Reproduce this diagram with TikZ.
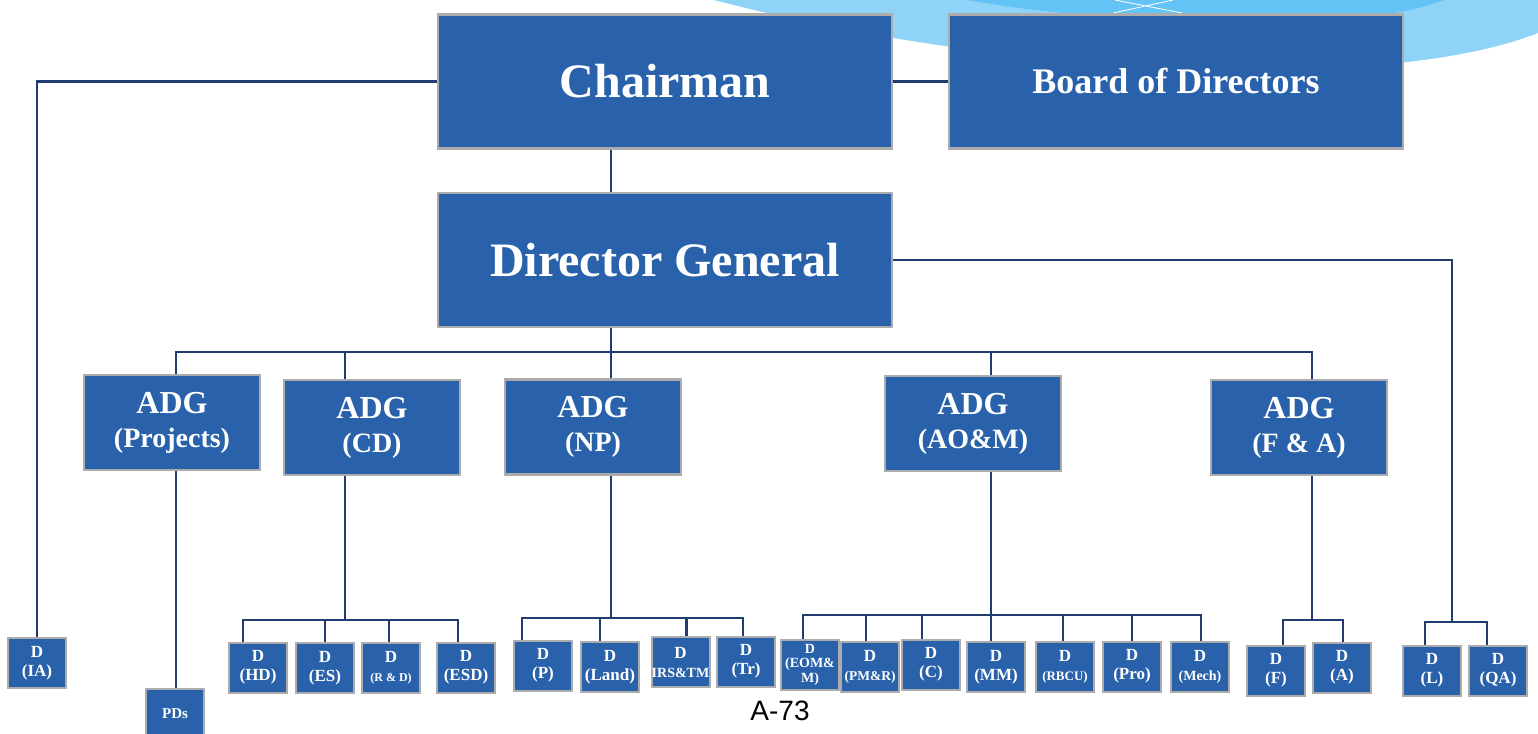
\documentclass[tikz,border=0pt]{standalone}
\usepackage{fontspec}
\setmainfont{Liberation Serif}
\newfontfamily\pagefont{Liberation Sans}
\usetikzlibrary{backgrounds}
\definecolor{boxblue}{RGB}{41,98,170}
\definecolor{boxgray}{RGB}{172,172,172}
\definecolor{connblue}{RGB}{31,61,110}
\definecolor{skylight}{RGB}{143,211,247}
\definecolor{skydark}{RGB}{99,195,245}
\tikzset{
  box/.style={draw=boxgray, line width=2.5pt, fill=boxblue, text=white, align=center, inner sep=0pt},
  bigbox/.style={box, minimum width=454pt, minimum height=134pt, font=\fontsize{48}{52}\selectfont\bfseries},
  adg/.style={box, minimum width=176pt, minimum height=95pt, font=\fontsize{28}{34}\selectfont\bfseries},
  dbox/.style={box, line width=2pt, minimum width=58pt, minimum height=50pt, font=\fontsize{17}{19}\selectfont\bfseries},
  conn/.style={draw=connblue, line width=2.5pt},
}
\newcommand{\adgline}{{\fontsize{32}{34}\selectfont ADG}}
\begin{document}
\begin{tikzpicture}[x=1pt,y=-1pt]
\useasboundingbox (0,0) rectangle (1538,733);
\clip (0,0) rectangle (1538,733);
% top level
\node[bigbox] (chair) at (665,81.5) {Chairman};
\node[bigbox, font=\fontsize{36}{40}\selectfont\bfseries] (board) at (1176,81.5) {Board of Directors};
\node[bigbox] (dg) at (665,260) {Director General};
% ADGs
\node[adg] (adgp) at (172,422.5) {\adgline\\(Projects)};
\node[adg] (adgcd) at (372,427.5) {\adgline\\(CD)};
\node[adg] (adgnp) at (593,427) {\adgline\\(NP)};
\node[adg] (adgaom) at (973,423.5) {\adgline\\(AO\&M)};
\node[adg] (adgfa) at (1299,427.5) {\adgline\\(F \& A)};
% directors
\node[dbox] (ia) at (37,663) {D\\(IA)};
\node[dbox, font=\fontsize{15}{17}\selectfont\bfseries] (pds) at (175,714) {PDs};
\node[dbox] (hd) at (258,667.5) {D\\(HD)};
\node[dbox] (es) at (325,668) {D\\(ES)};
\node[dbox] (rd) at (391,667.5) {D\\{\fontsize{12}{19}\selectfont(R \& D)}};
\node[dbox] (esd) at (466,667.5) {D\\(ESD)};
\node[dbox] (p) at (543,665.5) {D\\(P)};
\node[dbox] (land) at (610,667) {D\\(Land)};
\node[dbox] (irs) at (680.5,662) {D\\{\fontsize{14}{19}\selectfont IRS\&TM}};
\node[dbox] (tr) at (746,661.5) {D\\(Tr)};
\node[dbox, font=\fontsize{14}{14.5}\selectfont\bfseries] (eom) at (810,664.5) {D\\(EOM\&\\M)};
\node[dbox] (pmr) at (870,666.5) {D\\{\fontsize{13.5}{19}\selectfont(PM\&R)}};
\node[dbox] (c) at (931,664.5) {D\\(C)};
\node[dbox] (mm) at (996,667) {D\\(MM)};
\node[dbox] (rbcu) at (1065,666.5) {D\\{\fontsize{13}{19}\selectfont(RBCU)}};
\node[dbox] (pro) at (1132,666.5) {D\\(Pro)};
\node[dbox] (mech) at (1200,666.5) {D\\{\fontsize{14}{19}\selectfont(Mech)}};
\node[dbox] (f) at (1276,670.5) {D\\(F)};
\node[dbox] (a) at (1342,667.5) {D\\(A)};
\node[dbox] (l) at (1432,670.5) {D\\(L)};
\node[dbox] (qa) at (1498,670.5) {D\\(QA)};
% page number
\node[font=\fontsize{28}{30}\selectfont\pagefont] (pg) at (780,711) {A-73};
% bus coordinates
\coordinate (mbus) at (611,352);
\coordinate (cdbus) at (345,620);
\coordinate (npbus) at (611,618);
\coordinate (aombus) at (991,615);
\coordinate (fabus) at (1312,620);
\coordinate (lbus) at (1452,622);
\begin{pgfonlayer}{background}
  % decorative swoosh
  \fill[skylight] (714,0) .. controls (1000,75) and (1380,95) .. (1538,33) -- (1538,0) -- cycle;
  \fill[skydark] (966,0) .. controls (1030,10) .. (1100,16) -- (1380,16) .. controls (1420,8) .. (1445,0) -- cycle;
  \draw[white, line width=0.8pt] (1115,0) -- (1182,13) (1173,0) -- (1113,13);
  % connectors
  \draw[conn] (chair.west) -| (ia.north);
  \draw[conn] (chair.east) -- (board.west);
  \draw[conn] ([xshift=-54pt]chair.south) -- ([xshift=-54pt]dg.north);
  \draw[conn] ([xshift=-54pt]dg.south) -- (mbus);
  \draw[conn] ([xshift=4pt]adgp.north) |- (mbus) -| ([xshift=13pt]adgfa.north);
  \draw[conn] ([xshift=-27pt]adgcd.north) -- ([xshift=-27pt]adgcd.north |- mbus);
  \draw[conn] ([xshift=18pt]adgnp.north) -- (mbus);
  \draw[conn] ([xshift=18pt]adgaom.north) -- ([xshift=18pt]adgaom.north |- mbus);
  \draw[conn] (dg.east) -| (lbus);
  % projects
  \draw[conn] ([xshift=4pt]adgp.south) -- ([xshift=1pt]pds.north);
  % CD
  \draw[conn] ([xshift=-27pt]adgcd.south) -- (cdbus);
  \draw[conn] ([xshift=-15pt]hd.north) |- (cdbus) -| ([xshift=-8pt]esd.north);
  \draw[conn] (es.north) -- (es.north |- cdbus);
  \draw[conn] ([xshift=-2pt]rd.north) -- ([xshift=-2pt]rd.north |- cdbus);
  % NP
  \draw[conn] ([xshift=18pt]adgnp.south) -- (npbus);
  \draw[conn] ([xshift=-21pt]p.north) |- (npbus) -| ([xshift=-3pt]tr.north);
  \draw[conn] ([xshift=-10pt]land.north) -- ([xshift=-10pt]land.north |- npbus);
  \draw[conn] ([xshift=6pt]irs.north) -- ([xshift=6pt]irs.north |- npbus);
  % AO&M
  \draw[conn] ([xshift=18pt]adgaom.south) -- (mm.north -| aombus);
  \draw[conn] ([xshift=-7pt]eom.north) |- (aombus) -| ([xshift=1pt]mech.north);
  \draw[conn] ([xshift=-4pt]pmr.north) -- ([xshift=-4pt]pmr.north |- aombus);
  \draw[conn] ([xshift=-9pt]c.north) -- ([xshift=-9pt]c.north |- aombus);
  \draw[conn] ([xshift=-2pt]rbcu.north) -- ([xshift=-2pt]rbcu.north |- aombus);
  \draw[conn] (pro.north) -- (pro.north |- aombus);
  % F&A
  \draw[conn] ([xshift=13pt]adgfa.south) -- (fabus);
  \draw[conn] ([xshift=7pt]f.north) |- (fabus) -| ([xshift=1pt]a.north);
  % L, QA
  \draw[conn] ([xshift=-7pt]l.north) |- (lbus) -| ([xshift=-11pt]qa.north);
\end{pgfonlayer}
\end{tikzpicture}
\end{document}
